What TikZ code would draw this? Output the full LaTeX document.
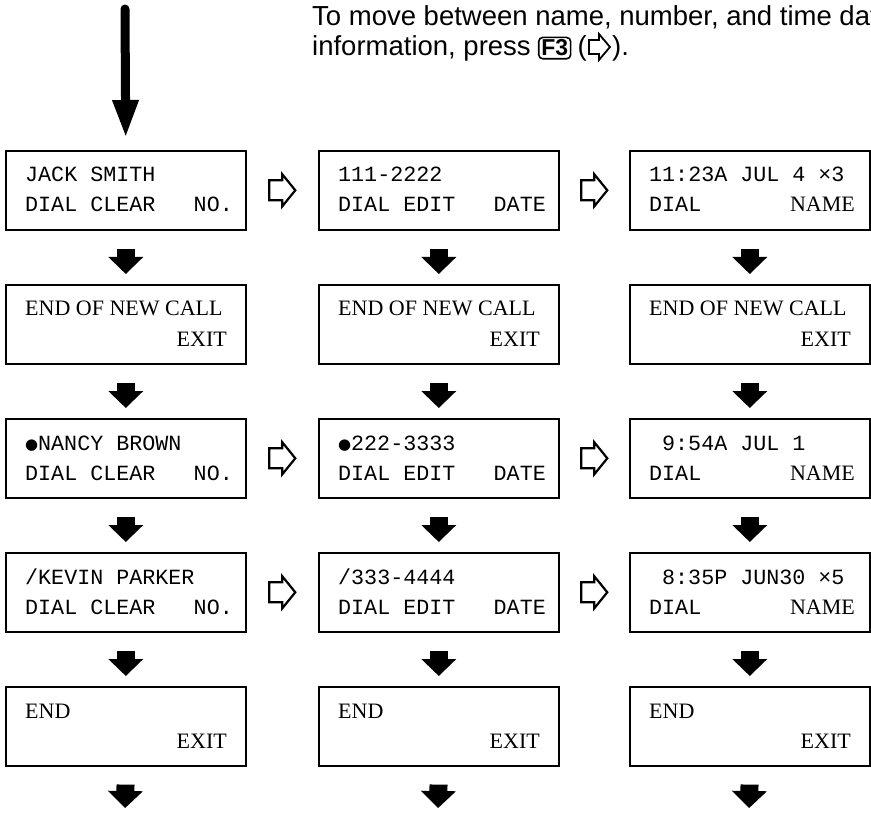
\documentclass[tikz,border=0pt]{standalone}
\usepackage{fontspec}
\setmainfont{Liberation Sans}
\newfontfamily\lcdmono{Liberation Mono}
\newfontfamily\lcdser{Liberation Serif}
\newfontfamily\symfont{DejaVu Sans}
\usetikzlibrary{arrows.meta,calc}
\newcommand{\lcddot}{\makebox[13pt][c]{\raisebox{0.5pt}{\symfont\fontsize{15}{15}\selectfont ●}}}
\begin{document}
\begin{tikzpicture}[x=1pt,y=-1pt,
  lcdbox/.style={draw,line width=1.6pt,minimum width=240pt,minimum height=79pt,inner sep=0pt,anchor=north west},
  mono/.style={font=\lcdmono\fontsize{21.7}{26}\selectfont,inner sep=0pt,anchor=base west},
  monor/.style={mono,anchor=base east},
  ser/.style={font=\lcdser\fontsize{22}{26}\selectfont,inner sep=0pt,anchor=base west},
  serr/.style={ser,anchor=base east},
  hdr/.style={font=\fontsize{27.5}{30}\selectfont,inner sep=0pt,anchor=base west},
  keybox/.style={draw,line width=1.6pt,rounded corners=4pt,inner xsep=2.5pt,inner ysep=2.5pt,anchor=base west,font=\bfseries\fontsize{23}{23}\selectfont},
  down/.style={line width=18pt,-{Triangle[width=34pt,length=17pt]},shorten <=18pt,shorten >=10pt},
  harrow/.pic={\draw[line width=2.2pt,fill=white,line join=miter] (-13,-10) -- (0,-10) -- (0,-16) -- (13,0) -- (0,16) -- (0,10) -- (-13,10) -- cycle;},
  harrowsmall/.pic={\draw[line width=1.8pt,fill=white,line join=miter] (-10,-7) -- (0,-7) -- (0,-13) -- (11,0) -- (0,13) -- (0,7) -- (-10,7) -- cycle;}
]
\useasboundingbox (0,0) rectangle (871,813);
\clip (0,0) rectangle (871,813);

% header
\node[hdr] (h1) at (312,26) {To move between name, number, and time date};
\node[hdr] (h2) at (312,56) {information, press};
\node[keybox] (key) at ($(h2.base east)+(7,0)$) {F3};
\node[hdr] (lp) at ($(key.base east)+(6,0)$) {(};
\pic at ($(lp.base east)+(12,-9)$) {harrowsmall};
\node[hdr] (rp) at ($(lp.base east)+(25,0)$) {).};

% boxes
\foreach \r/\y in {1/150,2/284,3/418,4/552,5/686}{
  \foreach \c/\x in {1/5,2/318,3/629}{
    \node[lcdbox] (b\r\c) at (\x,\y) {};
  }
}

% row 1
\node[mono] (t11a) at ($(b11.north west)+(20,32)$) {JACK SMITH};
\node[mono] (t11b) at ($(b11.north west)+(20,62)$) {DIAL CLEAR};
\node[monor] (t11c) at ($(b11.north west)+(228,62)$) {NO.};
\node[mono] (t12a) at ($(b12.north west)+(20,32)$) {111-2222};
\node[mono] (t12b) at ($(b12.north west)+(20,62)$) {DIAL EDIT};
\node[monor] (t12c) at ($(b12.north west)+(228,62)$) {DATE};
\node[mono] (t13a) at ($(b13.north west)+(20,32)$) {11:23A JUL 4 ×3};
\node[mono] (t13b) at ($(b13.north west)+(20,62)$) {DIAL};
\node[serr] (t13c) at ($(b13.north west)+(226,62)$) {NAME};

% row 2
\foreach \c in {1,2,3}{
  \node[ser] (t2\c a) at ($(b2\c.north west)+(20,32)$) {END OF NEW CALL};
  \node[serr] (t2\c b) at ($(b2\c.north west)+(222,62)$) {EXIT};
}

% row 3
\node[mono] (t31a) at ($(b31.north west)+(20,32)$) {\lcddot NANCY BROWN};
\node[mono] (t31b) at ($(b31.north west)+(20,62)$) {DIAL CLEAR};
\node[monor] (t31c) at ($(b31.north west)+(228,62)$) {NO.};
\node[mono] (t32a) at ($(b32.north west)+(20,32)$) {\lcddot 222-3333};
\node[mono] (t32b) at ($(b32.north west)+(20,62)$) {DIAL EDIT};
\node[monor] (t32c) at ($(b32.north west)+(228,62)$) {DATE};
\node[mono] (t33a) at ($(b33.north west)+(33,32)$) {9:54A JUL 1};
\node[mono] (t33b) at ($(b33.north west)+(20,62)$) {DIAL};
\node[serr] (t33c) at ($(b33.north west)+(226,62)$) {NAME};

% row 4
\node[mono] (t41a) at ($(b41.north west)+(20,32)$) {/KEVIN PARKER};
\node[mono] (t41b) at ($(b41.north west)+(20,62)$) {DIAL CLEAR};
\node[monor] (t41c) at ($(b41.north west)+(228,62)$) {NO.};
\node[mono] (t42a) at ($(b42.north west)+(20,32)$) {/333-4444};
\node[mono] (t42b) at ($(b42.north west)+(20,62)$) {DIAL EDIT};
\node[monor] (t42c) at ($(b42.north west)+(228,62)$) {DATE};
\node[mono] (t43a) at ($(b43.north west)+(33,32)$) {8:35P JUN30 ×5};
\node[mono] (t43b) at ($(b43.north west)+(20,62)$) {DIAL};
\node[serr] (t43c) at ($(b43.north west)+(226,62)$) {NAME};

% row 5
\foreach \c in {1,2,3}{
  \node[ser] (t5\c a) at ($(b5\c.north west)+(20,32)$) {END};
  \node[serr] (t5\c b) at ($(b5\c.north west)+(222,62)$) {EXIT};
}

% top arrow
\coordinate (start) at (125,9);
\draw[line width=9pt,line cap=round,-{Triangle[width=24pt,length=38pt]},shorten >=12pt] (start) -- (b11.north);

% down arrows
\foreach \c/\x in {1/125,2/438,3/749}{
  \coordinate (f\c) at (\x,818);
  \draw[down] (b1\c.south) -- (b2\c.north);
  \draw[down] (b2\c.south) -- (b3\c.north);
  \draw[down] (b3\c.south) -- (b4\c.north);
  \draw[down] (b4\c.south) -- (b5\c.north);
  \draw[down] (b5\c.south) -- (f\c);
}

% hollow right arrows
\foreach \r in {1,3,4}{
  \pic at ($(b\r1.east)!0.5!(b\r2.west)$) {harrow};
  \pic at ($(b\r2.east)!0.5!(b\r3.west)$) {harrow};
}
\end{tikzpicture}
\end{document}
